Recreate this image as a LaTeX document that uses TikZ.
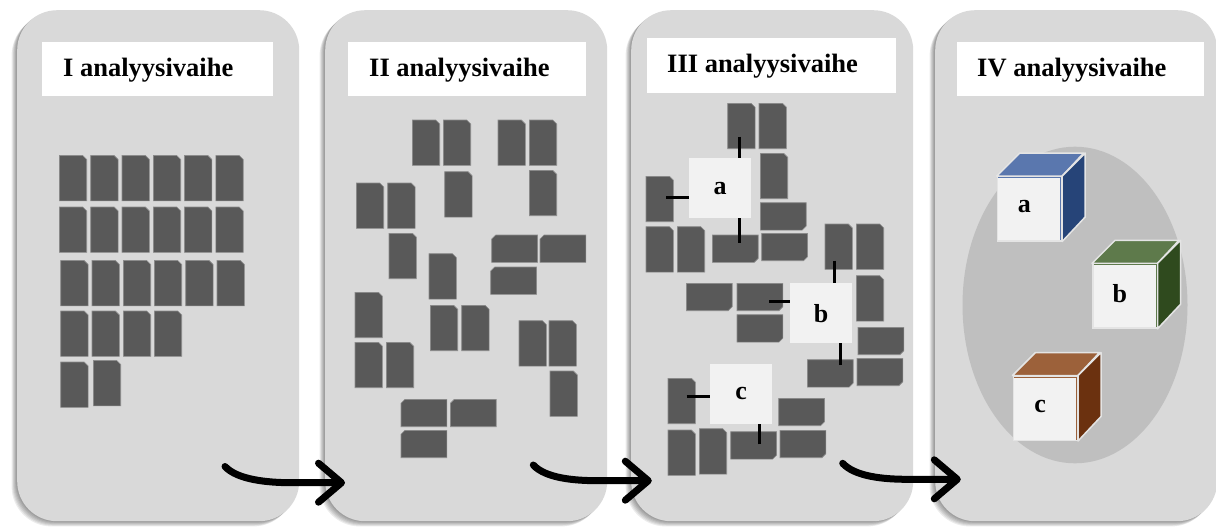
\documentclass[tikz,border=0pt]{standalone}
\usepackage{fontspec}
\setmainfont{Liberation Serif}
\usetikzlibrary{calc,shapes.geometric}
\definecolor{panelbg}{HTML}{D9D9D9}
\definecolor{cardfill}{HTML}{595959}
\definecolor{cardedge}{HTML}{8C8C8C}
\definecolor{lblfill}{HTML}{F2F2F2}
\definecolor{ellfill}{HTML}{BFBFBF}
\definecolor{cubeedge}{HTML}{E4E4E4}
\definecolor{atop}{HTML}{5A77AE}
\definecolor{aside}{HTML}{264478}
\definecolor{btop}{HTML}{5E7A4B}
\definecolor{bside}{HTML}{2F4A1E}
\definecolor{ctop}{HTML}{9C613A}
\definecolor{cside}{HTML}{6B310F}
\tikzset{
  panel/.style={rounded corners=40pt, fill=panelbg, inner sep=0pt, anchor=north west,
    minimum width=282pt, minimum height=511pt},
  pshadow/.style={black, opacity=0.075, rounded corners=40pt},
  titlebox/.style={fill=white, anchor=north west, inner sep=0pt},
  titletext/.style={font=\fontsize{26.5}{30}\selectfont\bfseries, anchor=base west, inner sep=0pt},
  cardslot/.style={inner sep=0pt, anchor=north west},
  cardshape/.style={fill=cardfill, draw=cardedge, line width=0.6pt},
  lblbox/.style={fill=lblfill, inner sep=0pt, anchor=north west, minimum width=62pt,
    minimum height=60pt, font=\fontsize{26}{30}\selectfont\bfseries},
  tick/.style={line width=3pt, black},
  flow/.style={line width=7pt, line cap=round, line join=round, black},
  cubefront/.style={fill=lblfill, draw=cubeedge, line width=1.5pt, inner sep=0pt,
    anchor=north west, minimum size=64pt},
  cubeface/.style={draw=cubeedge, line width=1.5pt, line join=round},
  cubelabel/.style={font=\fontsize{26}{30}\selectfont\bfseries, inner sep=0pt},
}
% portrait card, chamfer top right
\newcommand\vcard[3]{%
  \node[cardslot, minimum width=27pt, minimum height=45pt] (#1) at (#2,#3) {};
  \filldraw[cardshape] (#1.south west) -- (#1.north west) -- ([xshift=-4pt]#1.north east)
    -- ([yshift=-4pt]#1.north east) -- (#1.south east) -- cycle;}
% landscape card, chamfer top left
\newcommand\hcardtl[3]{%
  \node[cardslot, minimum width=45.5pt, minimum height=27pt] (#1) at (#2,#3) {};
  \filldraw[cardshape] (#1.south west) -- ([yshift=-4pt]#1.north west) -- ([xshift=4pt]#1.north west)
    -- (#1.north east) -- (#1.south east) -- cycle;}
% landscape card, chamfer bottom right
\newcommand\hcardbr[3]{%
  \node[cardslot, minimum width=45.5pt, minimum height=27pt] (#1) at (#2,#3) {};
  \filldraw[cardshape] (#1.south west) -- (#1.north west) -- (#1.north east)
    -- ([yshift=4pt]#1.south east) -- ([xshift=-4pt]#1.south east) -- cycle;}
\newcommand\panelat[2]{%
  \foreach \k in {1,...,6}{\fill[pshadow] ({#2-0.9*\k},{10+0.9*\k}) rectangle ++(282,511);}
  \node[panel] (#1) at (#2,10) {};}
\newcommand\cubeat[6]{%
  \node[cubefront] (#1) at (#2,#3) {};
  \filldraw[cubeface, fill=#4] (#1.north west) -- ++(23pt,23pt) -- ++(64pt,0pt) -- (#1.north east) -- cycle;
  \filldraw[cubeface, fill=#5] (#1.north east) -- ++(23pt,23pt) -- ++(0pt,-64pt) -- (#1.south east) -- cycle;
  \draw[#4, line width=1pt] ([shift={(1.5pt,-1.5pt)}]#1.north west) -- ([shift={(-1.5pt,-1.5pt)}]#1.north east)
    -- ([shift={(-1.5pt,1.5pt)}]#1.south east);
  \node[cubelabel] (#1l) at ([shift={(-5pt,2pt)}]#1.center) {#6};}
\begin{document}
\begin{tikzpicture}[x=1pt,y=-1pt]
\useasboundingbox (0,0) rectangle (1216,528);
\fill[white] (0,0) rectangle (1216,528);

% panels
\panelat{P1}{17}
\panelat{P2}{325}
\panelat{P3}{631}
\panelat{P4}{935}

% titles
\node[titlebox, minimum width=231pt, minimum height=54pt] (T1) at (42,42) {};
\node[titletext] (T1t) at ([shift={(21pt,-7pt)}]T1.west) {I analyysivaihe};
\node[titlebox, minimum width=238pt, minimum height=54pt] (T2) at (348,42) {};
\node[titletext] (T2t) at ([shift={(21pt,-7pt)}]T2.west) {II analyysivaihe};
\node[titlebox, minimum width=249pt, minimum height=55pt] (T3) at (647,38) {};
\node[titletext] (T3t) at ([shift={(20pt,-7pt)}]T3.west) {III analyysivaihe};
\node[titlebox, minimum width=247pt, minimum height=54pt] (T4) at (957,42) {};
\node[titletext] (T4t) at ([shift={(20pt,-7pt)}]T4.west) {IV analyysivaihe};

% panel 1 cards
\foreach \c/\x in {1/59.3,2/90.7,3/122,4/153.3,5/184.5,6/215.8}{\vcard{p1a\c}{\x}{155.5}}
\foreach \c/\x in {1/59.3,2/90.7,3/122,4/153.3,5/184.5,6/215.8}{\vcard{p1b\c}{\x}{207}}
\foreach \c/\x in {1/60.7,2/92,3/123.3,4/154.3,5/185.7,6/217}{\vcard{p1c\c}{\x}{260.5}}
\foreach \c/\x in {1/60.7,2/92,3/123.3,4/154.3}{\vcard{p1d\c}{\x}{311}}
\vcard{p1e1}{60.7}{362}
\vcard{p1e2}{93.3}{360.5}

% panel 2 cards
\foreach \n/\x/\y in {1/412.3/120,2/443.3/120,3/498/120,4/529.3/120,5/444.7/171.7,
  6/529.3/170.3,7/356.3/183,8/387.7/183,9/389/233.3,10/429/253.7,11/355/292.3,
  12/430.3/305.3,13/461.7/305.3,14/355/342.3,15/386.3/342.3,16/519/320.7,
  17/549/320.7,18/550/371}{\vcard{p2v\n}{\x}{\y}}
\foreach \n/\x/\y in {1/491.7/235,2/540/235,3/490.7/267,4/401/399.3,5/450.3/399.3,
  6/401/430.3}{\hcardtl{p2h\n}{\x}{\y}}

% panel 3 cards
\foreach \n/\x/\y in {1/727.7/103.3,2/759/103.3,3/760.3/153.3,4/646/176.3,5/646/226.7,
  6/677.3/226.7,7/825/224,8/856.3/224,9/856.3/275.7,10/668/378.3,11/668/430,
  12/699.3/428.7}{\vcard{p3v\n}{\x}{\y}}
\foreach \n/\x/\y in {1/760.3/202.7,2/712.3/235,3/761.7/233.3,4/686.3/283.3,5/737/283.3,
  6/737/314.7,7/858/327.3,8/807.3/359.7,9/857/358.3,10/778.7/398.3,11/730.7/431.7,
  12/780/430.3}{\hcardbr{p3h\n}{\x}{\y}}

% panel 3 group boxes
\node[lblbox] (ga) at (689,158) {a};
\node[lblbox] (gb) at (790,283) {b};
\node[lblbox] (gc) at (710,363.3) {c};

% ticks linking boxes to cards
\coordinate (ta1) at (739.3,136.7);
\coordinate (ta2) at (666,197.3);
\coordinate (ta3) at (739.3,242.7);
\coordinate (tb1) at (834.3,260.7);
\coordinate (tb2) at (769,301.7);
\coordinate (tb3) at (840.7,365);
\coordinate (tc1) at (686.7,396.7);
\coordinate (tc2) at (759.3,444.3);
\draw[tick] (ta1) -- (ta1 |- ga.north);
\draw[tick] (ta2) -- (ta2 -| ga.west);
\draw[tick] (ta3) -- (ta3 |- ga.south);
\draw[tick] (tb1) -- (tb1 |- gb.north);
\draw[tick] (tb2) -- (tb2 -| gb.west);
\draw[tick] (tb3) -- (tb3 |- gb.south);
\draw[tick] (tc1) -- (tc1 -| gc.west);
\draw[tick] (tc2) -- (tc2 |- gc.south);

% panel 4
\node[ellipse, fill=ellfill, inner sep=0pt, minimum width=225pt, minimum height=316.6pt] (grp) at (1075,305) {};
\cubeat{ca}{996.7}{176}{atop}{aside}{a}
\cubeat{cb}{1092}{263.3}{btop}{bside}{b}
\cubeat{cc}{1012.5}{375.5}{ctop}{cside}{c}

% flow arrows
\coordinate (s1) at (225,466.5);
\coordinate (t1) at (341.5,482.7);
\coordinate (s2) at (533.3,465);
\coordinate (t2) at (648.3,480.7);
\coordinate (s3) at (842.7,463.3);
\coordinate (t3) at (957.3,479.3);
\foreach \s/\t in {s1/t1,s2/t2,s3/t3}{
  \draw[flow] (\s) .. controls +(12,13) and +(-25,0) .. ([xshift=-50pt]\t) -- ([xshift=-2pt]\t);
  \draw[flow] ([shift={(-23,-19.5)}]\t) -- (\t) -- ([shift={(-23,19.5)}]\t);
}
\end{tikzpicture}
\end{document}
